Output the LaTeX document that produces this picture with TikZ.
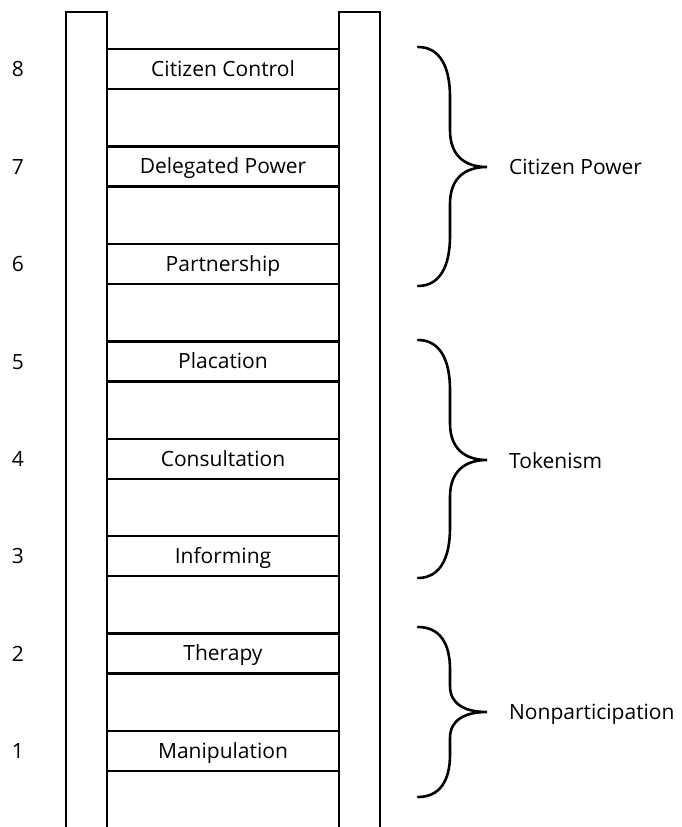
\documentclass[tikz,border=0pt]{standalone}
\usepackage{fontspec}
\setmainfont{Open Sans}
\newcommand\ladderbrace[5]{%
  \draw[bracestyle] (418,#1) .. controls (440,#1) and (450,#1+#4*0.4) .. (450,#1+#4)
    -- (450,#2-#5) .. controls (450,#2-#5*0.3) and (465,#2) .. (487,#2)
    .. controls (465,#2) and (450,#2+#5*0.3) .. (450,#2+#5)
    -- (450,#3-#4) .. controls (450,#3-#4*0.4) and (440,#3) .. (418,#3);}
\begin{document}
\begin{tikzpicture}[x=1pt,y=-1pt,line width=2.3pt,
  txt/.style={font=\fontsize{21}{24}\selectfont, text height=14.5pt, text depth=0pt},
  rung/.style={draw, txt, minimum width=232pt, minimum height=40pt, inner sep=0pt},
  num/.style={txt, inner sep=0pt},
  bracestyle/.style={line width=2.6pt, line cap=round},
  grp/.style={txt, anchor=west, inner sep=0pt}]
\useasboundingbox (0,0) rectangle (681,827);
\draw (66,835) -- (66,12) -- (107,12) -- (107,835);
\draw (339,835) -- (339,12) -- (380,12) -- (380,835);
\foreach \i/\t in {1/Manipulation,2/Therapy,3/Informing,4/Consultation,5/Placation,6/Partnership,7/Delegated Power,8/Citizen Control}{
  \node[rung] (r\i) at (223,{751-(\i-1)*97.4}) {\t};
  \node[num] (n\i) at (18,{751.5-(\i-1)*97.4}) {\i};
}
\ladderbrace{47}{167}{286}{50}{37}
\ladderbrace{340}{460}{578}{50}{37}
\ladderbrace{627}{712}{797}{42}{26}
\node[grp] (cp) at (508,167) {Citizen Power};
\node[grp] (tk) at (508,461) {Tokenism};
\node[grp] (np) at (508,712) {Nonparticipation};
\end{tikzpicture}
\end{document}
